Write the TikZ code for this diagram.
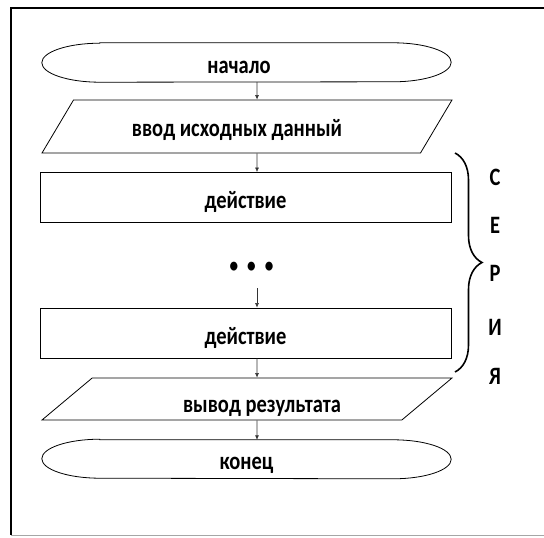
\documentclass[tikz,border=0pt]{standalone}
\usepackage{fontspec}
\setmainfont{Carlito}[FakeStretch=0.82]
\usepackage{tikz}
\usetikzlibrary{shapes.geometric, arrows.meta, decorations.pathreplacing}

\begin{document}
\begin{tikzpicture}[x=1pt, y=-1pt,
  term/.style={rectangle, minimum width=409pt, minimum height=39pt, inner sep=0pt,
               text height=21pt, text depth=0pt, font=\fontsize{25}{28}\selectfont\bfseries},
  io/.style={trapezium, trapezium stretches body, draw, line width=0.8pt,
             minimum width=410pt, inner sep=0pt, text height=20pt, text depth=0pt,
             font=\fontsize{25}{28}\selectfont\bfseries},
  act/.style={rectangle, draw, line width=0.8pt, minimum width=411pt, minimum height=50pt,
              inner sep=0pt, text height=22pt, text depth=0pt,
              font=\fontsize{25}{28}\selectfont\bfseries},
  lett/.style={font=\fontsize{25}{28}\selectfont\bfseries, inner sep=0pt},
  arr/.style={-{Latex[length=4.5pt, width=4pt]}, line width=0.6pt, color=black!80},
  rim/.style={line width=0.8pt}
]
\useasboundingbox (0,0) rectangle (544,538);
% frame
\draw[line width=1.2pt] (544,8) -- (11,8) -- (11,535);
\draw[line width=1pt, black!35] (11,535) -- (544,535);

% blocks
\node[term] (start) at (246.5,62.5) {начало\hspace*{15pt}};
\node[io, trapezium left angle=32.4, trapezium right angle=147.6, minimum height=53pt]
  (input) at (247,126.5) {ввод исходных данный\hspace*{20pt}};
\node[act] (act1) at (245.5,197.5) {действие};
\node[font=\fontsize{21}{21}\selectfont\bfseries] (dots) at (251.5,267)
  {\textbullet\hspace{9pt}\textbullet\hspace{9pt}\textbullet};
\coordinate (gap) at (257,288);
\node[act] (act2) at (245.5,333) {действие};
\node[io, trapezium left angle=27.4, trapezium right angle=152.6, minimum height=42pt,
      text height=26pt] (output) at (247,399) {\hspace*{30pt}вывод результата};
\node[term, minimum height=38pt] (stop) at (246.5,459) {конец};

% rounded ends of the terminals
\foreach \t in {start, stop}
  \draw[rim] ([xshift=58pt]\t.north west) -- ([xshift=-58pt]\t.north east)
    arc[start angle=90, end angle=-90, x radius=58pt, y radius=19.5pt]
    -- ([xshift=58pt]\t.south west)
    arc[start angle=270, end angle=90, x radius=58pt, y radius=19.5pt] -- cycle;

% connectors
\draw[arr] ([xshift=10.5pt]start.south) -- ([xshift=10pt]input.north);
\draw[arr] ([xshift=10pt]input.south) -- ([xshift=11.5pt]act1.north);
\draw[arr] (gap) -- ([xshift=11.5pt]act2.north);
\draw[arr] ([xshift=11.5pt]act2.south) -- ([xshift=10pt]output.north);
\draw[arr] ([xshift=10pt]output.south) -- ([xshift=10.5pt]stop.north);

% series brace
\coordinate (bt) at (455,153);
\coordinate (bb) at (455,372);
\draw[line width=1.6pt, decorate, decoration={brace, amplitude=27pt}] (bt) -- (bb);
\foreach \l/\y [count=\i] in {С/177, Е/225, Р/273, И/327, Я/376}
  \node[lett] (ser\i) at (495,\y) {\l};
\end{tikzpicture}
\end{document}
